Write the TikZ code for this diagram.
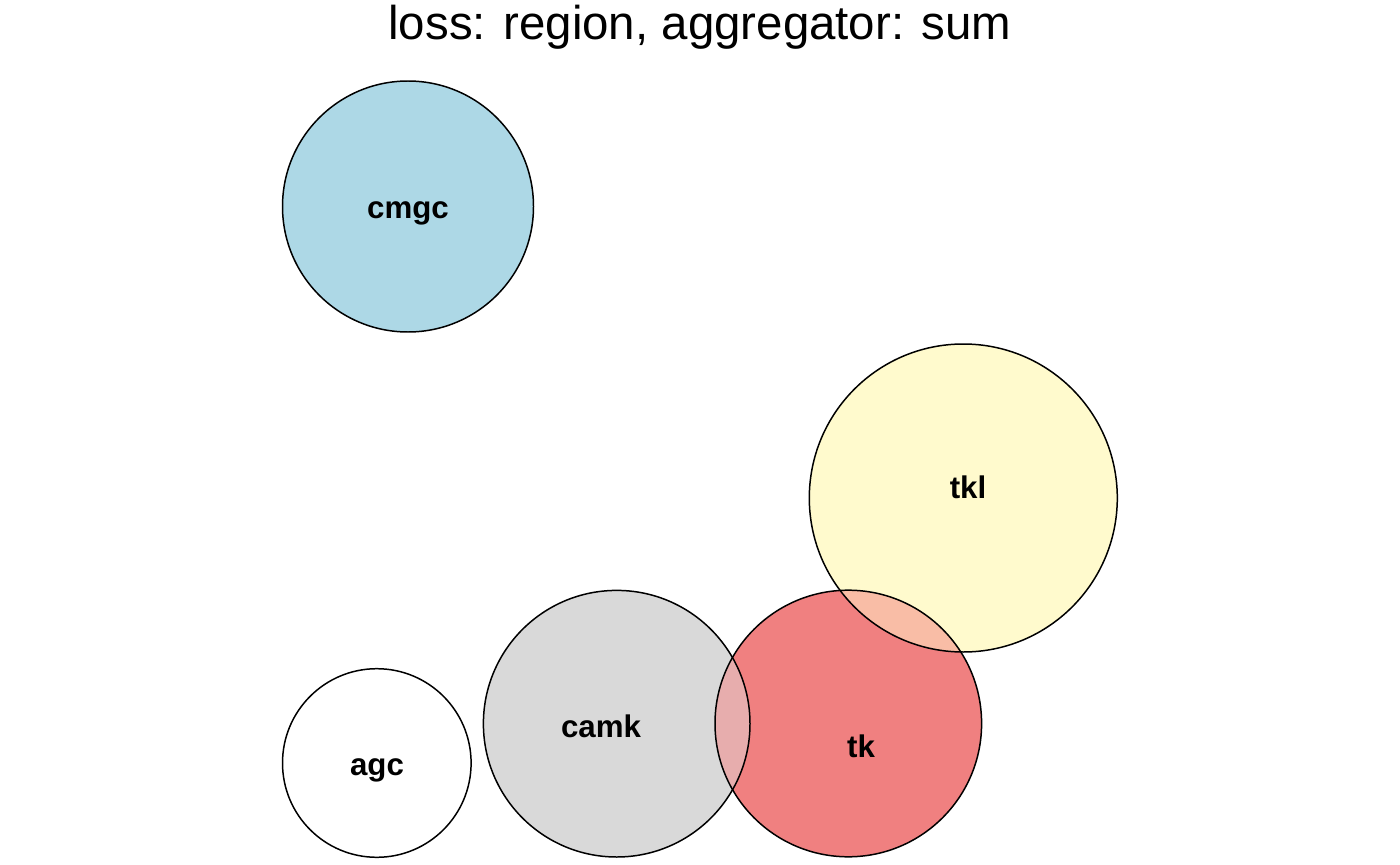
\documentclass[tikz,border=0pt]{standalone}
\usepackage{fontspec}
\setmainfont{Liberation Sans}
\usetikzlibrary{backgrounds}
\definecolor{SetBlue}{HTML}{ADD8E6}
\definecolor{SetYellow}{HTML}{FFFACD}
\definecolor{SetRed}{HTML}{F08080}
\definecolor{SetGray}{HTML}{D9D9D9}
\definecolor{MixGrayRed}{HTML}{E7ADAD}
\definecolor{MixRedYellow}{HTML}{F9BDA6}
\tikzset{
  figtitle/.style={font=\fontsize{27}{30}\selectfont, anchor=base, inner sep=0pt},
  setline/.style={draw=black, line width=0.85pt},
  setlabel/.style={font=\fontsize{17.8}{20}\selectfont\bfseries, anchor=base, inner sep=0pt},
}

\begin{document}
\begin{tikzpicture}[x=0.02cm, y=-0.02cm]
  \useasboundingbox[fill=white] (0,0) rectangle (1400,865);

  % set centres (pixel grid, y down)
  \coordinate (cmgc) at (408,206.5);
  \coordinate (tkl)  at (963.3,498);
  \coordinate (tk)   at (848.3,723.5);
  \coordinate (camk) at (616.7,723.7);
  \coordinate (agc)  at (376.8,763);

  \node[figtitle] (title) at (700,40) {loss: region, aggregator: sum};

  % plain fills
  \fill[SetBlue]   (cmgc) circle[radius=125.5];
  \fill[SetYellow] (tkl)  circle[radius=154];
  \fill[SetRed]    (tk)   circle[radius=133.3];
  \fill[SetGray]   (camk) circle[radius=133.3];
  \fill[white]     (agc)  circle[radius=94.3];

  % overlaps
  \begin{scope}
    \clip (camk) circle[radius=133.3];
    \fill[MixGrayRed] (tk) circle[radius=133.3];
  \end{scope}
  \begin{scope}
    \clip (tkl) circle[radius=154];
    \fill[MixRedYellow] (tk) circle[radius=133.3];
  \end{scope}

  % outlines
  \draw[setline] (cmgc) circle[radius=125.5];
  \draw[setline] (tkl)  circle[radius=154];
  \draw[setline] (tk)   circle[radius=133.3];
  \draw[setline] (camk) circle[radius=133.3];
  \draw[setline] (agc)  circle[radius=94.3];

  \node[setlabel] (cmgc label) at (408,218.5) {cmgc};
  \node[setlabel] (tkl label)  at (968,498)   {tkl};
  \node[setlabel] (camk label) at (601,737)   {camk};
  \node[setlabel] (tk label)   at (861,757.5) {tk};
  \node[setlabel] (agc label)  at (377,775)   {agc};
\end{tikzpicture}
\end{document}
